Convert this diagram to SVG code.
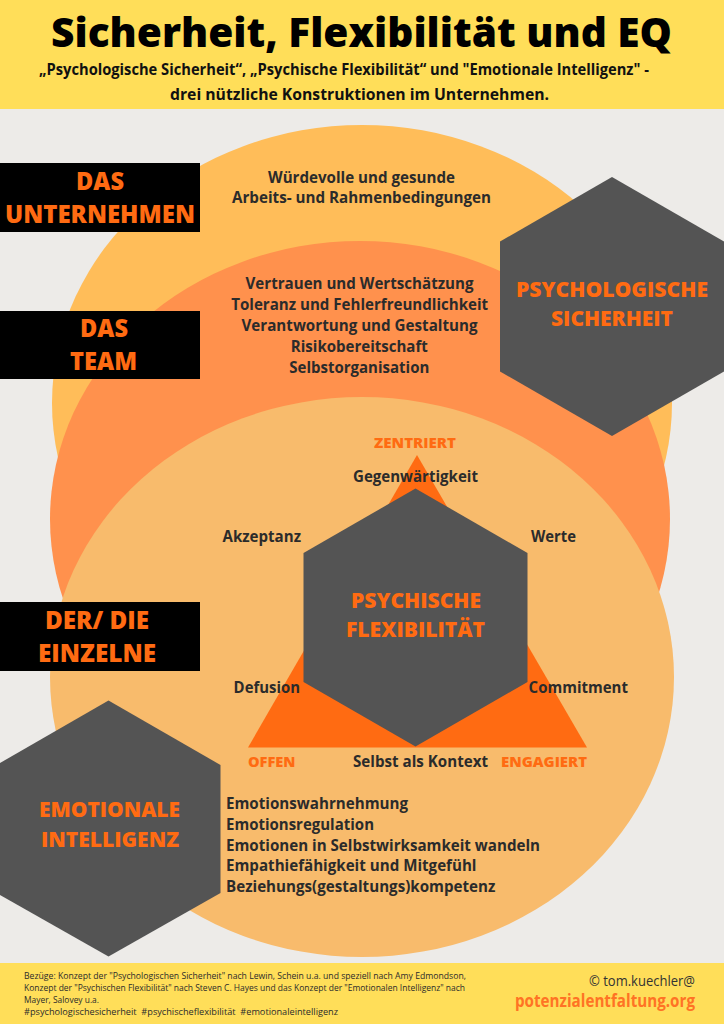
<svg xmlns="http://www.w3.org/2000/svg" width="724" height="1024" viewBox="0 0 724 1024">
<style>
text{font-family:"Open Sans","Noto Sans","Liberation Sans",sans-serif}
.body{font-size:15.5px;font-weight:700;fill:#2b2b2b}
.lbl{font-size:24px;font-weight:800;fill:#ff6b12;text-anchor:middle}
.hex{fill:#545454}
.hext{font-size:20.5px;font-weight:800;fill:#ff6b12;text-anchor:middle}
.tri{font-size:13.5px;font-weight:800;fill:#ff6b12}
.mid{text-anchor:middle}
.foot{font-size:9.2px;font-weight:400;fill:#2b2b2b}
</style>
<rect x="0" y="0" width="724" height="1024" fill="#edebe8"/>
<g id="header">
<rect x="0" y="0" width="724" height="109" fill="#ffde59"/>
<text x="361.5" y="47" font-size="40" font-weight="800" fill="#000" text-anchor="middle" textLength="621" lengthAdjust="spacingAndGlyphs">Sicherheit, Flexibilität und EQ</text>
<text x="39" y="75" font-size="16" font-weight="700" fill="#111" textLength="610" lengthAdjust="spacingAndGlyphs">„Psychologische Sicherheit“, „Psychische Flexibilität“ und "Emotionale Intelligenz" -</text>
<text x="170" y="100" font-size="16" font-weight="700" fill="#111" textLength="379" lengthAdjust="spacingAndGlyphs">drei nützliche Konstruktionen im Unternehmen.</text>
</g>
<g id="circles">
<ellipse id="circle-unternehmen" cx="362" cy="403" rx="310" ry="278" fill="#ffbd59"/>
<ellipse id="circle-team" cx="360" cy="519" rx="310" ry="278" fill="#ff914d"/>
<ellipse id="circle-einzelne" cx="362" cy="677" rx="312" ry="280" fill="#f8bb6c"/>
</g>
<g id="label-unternehmen">
<rect x="0" y="163" width="200" height="69" fill="#000"/>
<text class="lbl" x="100" y="190" textLength="48" lengthAdjust="spacingAndGlyphs">DAS</text>
<text class="lbl" x="100" y="223" textLength="190" lengthAdjust="spacingAndGlyphs">UNTERNEHMEN</text>
</g>
<g id="text-unternehmen">
<text class="body mid" x="361.5" y="183" textLength="187" lengthAdjust="spacingAndGlyphs">Würdevolle und gesunde</text>
<text class="body mid" x="361.5" y="203" textLength="259" lengthAdjust="spacingAndGlyphs">Arbeits- und Rahmenbedingungen</text>
</g>
<g id="label-team">
<rect x="0" y="311" width="200" height="68" fill="#000"/>
<text class="lbl" x="104" y="337" textLength="48" lengthAdjust="spacingAndGlyphs">DAS</text>
<text class="lbl" x="103.5" y="370" textLength="67" lengthAdjust="spacingAndGlyphs">TEAM</text>
</g>
<g id="text-team">
<text class="body mid" x="359.5" y="289" textLength="228" lengthAdjust="spacingAndGlyphs">Vertrauen und Wertschätzung</text>
<text class="body mid" x="359.7" y="310" textLength="257" lengthAdjust="spacingAndGlyphs">Toleranz und Fehlerfreundlichkeit</text>
<text class="body mid" x="359.5" y="331" textLength="236" lengthAdjust="spacingAndGlyphs">Verantwortung und Gestaltung</text>
<text class="body mid" x="359.3" y="352" textLength="137" lengthAdjust="spacingAndGlyphs">Risikobereitschaft</text>
<text class="body mid" x="359.3" y="373" textLength="140" lengthAdjust="spacingAndGlyphs">Selbstorganisation</text>
</g>
<g id="hex-psychologische-sicherheit">
<polygon class="hex" points="612,177 724,241.5 724,371.5 612,436 500,371.5 500,241.5"/>
<text class="hext" x="612" y="297" textLength="192" lengthAdjust="spacingAndGlyphs">PSYCHOLOGISCHE</text>
<text class="hext" x="612" y="326" textLength="122" lengthAdjust="spacingAndGlyphs">SICHERHEIT</text>
</g>
<g id="label-einzelne">
<rect x="0" y="602" width="200" height="69" fill="#000"/>
<text class="lbl" x="97" y="629" textLength="104" lengthAdjust="spacingAndGlyphs">DER/ DIE</text>
<text class="lbl" x="97" y="662" textLength="118" lengthAdjust="spacingAndGlyphs">EINZELNE</text>
</g>
<g id="triangle-flexibilitaet">
<polygon points="417,455 587,747.5 248,747.5" fill="#ff6b12"/>
<text class="tri mid" x="415" y="448" textLength="82" lengthAdjust="spacingAndGlyphs">ZENTRIERT</text>
<text class="tri" x="248" y="767" textLength="47.5" lengthAdjust="spacingAndGlyphs">OFFEN</text>
<text class="tri" x="501" y="767" textLength="86" lengthAdjust="spacingAndGlyphs">ENGAGIERT</text>
</g>
<g id="hex-psychische-flexibilitaet">
<polygon class="hex" points="415.5,488.5 527.5,553 527.5,682 415.5,746.5 303.5,682 303.5,553"/>
<text class="hext" x="416" y="608" textLength="130" lengthAdjust="spacingAndGlyphs">PSYCHISCHE</text>
<text class="hext" x="415.5" y="637" textLength="139" lengthAdjust="spacingAndGlyphs">FLEXIBILITÄT</text>
</g>
<g id="flex-processes">
<text class="body mid" x="415.5" y="482" textLength="125" lengthAdjust="spacingAndGlyphs">Gegenwärtigkeit</text>
<text class="body" x="222.5" y="542" textLength="78.5" lengthAdjust="spacingAndGlyphs">Akzeptanz</text>
<text class="body" x="531" y="542" textLength="45" lengthAdjust="spacingAndGlyphs">Werte</text>
<text class="body" x="233.6" y="693" textLength="66.4" lengthAdjust="spacingAndGlyphs">Defusion</text>
<text class="body" x="528.6" y="693" textLength="99.4" lengthAdjust="spacingAndGlyphs">Commitment</text>
<text class="body" x="353" y="767" textLength="135" lengthAdjust="spacingAndGlyphs">Selbst als Kontext</text>
</g>
<g id="hex-emotionale-intelligenz">
<polygon class="hex" points="108.5,700.5 220.5,765 220.5,893 108.5,956.5 -3.5,893 -3.5,765"/>
<text class="hext" x="109.5" y="817" textLength="141" lengthAdjust="spacingAndGlyphs">EMOTIONALE</text>
<text class="hext" x="110" y="847" textLength="138" lengthAdjust="spacingAndGlyphs">INTELLIGENZ</text>
</g>
<g id="text-emotionale-intelligenz">
<text class="body" x="226" y="809" textLength="182" lengthAdjust="spacingAndGlyphs">Emotionswahrnehmung</text>
<text class="body" x="226" y="830" textLength="148" lengthAdjust="spacingAndGlyphs">Emotionsregulation</text>
<text class="body" x="226" y="851" textLength="314" lengthAdjust="spacingAndGlyphs">Emotionen in Selbstwirksamkeit wandeln</text>
<text class="body" x="226" y="871" textLength="250.5" lengthAdjust="spacingAndGlyphs">Empathiefähigkeit und Mitgefühl</text>
<text class="body" x="226" y="892" textLength="269.4" lengthAdjust="spacingAndGlyphs">Beziehungs(gestaltungs)kompetenz</text>
</g>
<g id="connectors"/>
<g id="footer">
<rect x="0" y="963" width="724" height="61" fill="#ffde59"/>
<text class="foot" x="24" y="979" textLength="442" lengthAdjust="spacingAndGlyphs">Bezüge: Konzept der "Psychologischen Sicherheit" nach Lewin, Schein u.a. und speziell nach Amy Edmondson,</text>
<text class="foot" x="24" y="991" textLength="441" lengthAdjust="spacingAndGlyphs">Konzept der "Psychischen Flexibilität" nach Steven C. Hayes und das Konzept der "Emotionalen Intelligenz" nach</text>
<text class="foot" x="24" y="1003" textLength="75" lengthAdjust="spacingAndGlyphs">Mayer, Salovey u.a.</text>
<text class="foot" x="24" y="1015" font-weight="700" textLength="314" lengthAdjust="spacingAndGlyphs">#psychologischesicherheit&#160; #psychischeflexibilität&#160; #emotionaleintelligenz</text>
<text x="695" y="986" font-size="14" fill="#333" text-anchor="end" textLength="106" lengthAdjust="spacingAndGlyphs">© tom.kuechler@</text>
<text x="695" y="1007" font-size="17" font-weight="700" fill="#ff7324" text-anchor="end" textLength="180" lengthAdjust="spacingAndGlyphs">potenzialentfaltung.org</text>
</g>
</svg>
